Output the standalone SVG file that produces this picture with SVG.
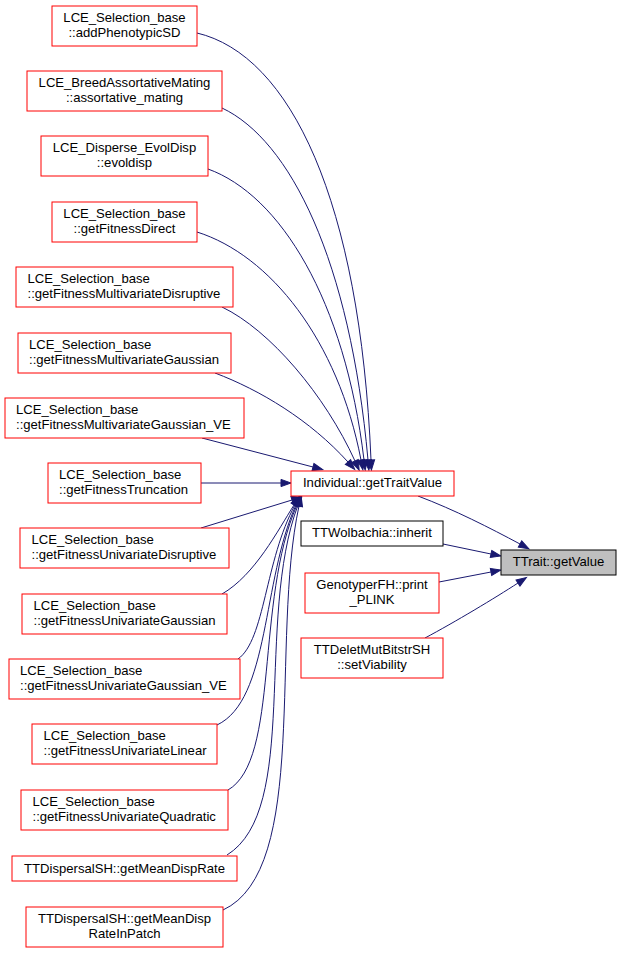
<svg xmlns="http://www.w3.org/2000/svg" width="621" height="953" viewBox="0 0 621 953">
<style>
.n{fill:#ffffff;stroke:#ff0000;stroke-width:1}
.b{fill:#ffffff;stroke:#000000;stroke-width:1}
.g{fill:#bfbfbf;stroke:#000000;stroke-width:1}
text{font-family:"Liberation Sans",Arial,Helvetica,sans-serif;font-size:13.1px;fill:#000000}
.c{text-anchor:middle}
.e{fill:none;stroke:#191970;stroke-width:1;marker-end:url(#arr)}
</style>
<defs>
<marker id="arr" markerUnits="userSpaceOnUse" markerWidth="12" markerHeight="10" refX="0" refY="0" orient="auto" overflow="visible">
<path d="M0,-3.6 L10,0 L0,3.6 z" fill="#191970" stroke="#191970" stroke-width="1"/>
</marker>
</defs>
<rect width="621" height="953" fill="#ffffff"/>
<g id="edges">
<path class="e" d="M197,33 C290,55 360,200 371,460"/>
<path class="e" d="M222,108 C290,140 350,260 368,460"/>
<path class="e" d="M208,169 C280,195 345,300 364,460"/>
<path class="e" d="M197,232 C270,255 338,340 361,460"/>
<path class="e" d="M222,307 C270,330 325,395 355,461"/>
<path class="e" d="M215,373 C260,390 310,420 348,462"/>
<path class="e" d="M202,438 L313,467"/>
<path class="e" d="M201,483 L281,483"/>
<path class="e" d="M201,528 L292,500"/>
<path class="e" d="M222,594 C255,575 278,530 294,505"/>
<path class="e" d="M238,659 C265,640 265,560 295,505"/>
<path class="e" d="M217,725 C270,700 262,580 296,505"/>
<path class="e" d="M228,790 C280,760 255,600 297,505"/>
<path class="e" d="M227,855 C300,810 255,620 298,505"/>
<path class="e" d="M223,910 C310,870 270,640 299,506"/>
<path class="e" d="M418,496 C455,510 490,528 520,544"/>
<path class="e" d="M443,544 L491,554"/>
<path class="e" d="M439,582 L491,572"/>
<path class="e" d="M425,638 C455,622 495,598 518,583"/>
</g>
<g id="n1"><rect class="n" x="52" y="6" width="145" height="40"/><text class="c" x="124.5" y="22.3">LCE_Selection_base</text><text class="c" x="124.5" y="37">::addPhenotypicSD</text></g>
<g id="n2"><rect class="n" x="27" y="71" width="195" height="40"/><text class="c" x="124.5" y="87.3">LCE_BreedAssortativeMating</text><text class="c" x="124.5" y="102">::assortative_mating</text></g>
<g id="n3"><rect class="n" x="41" y="136" width="167" height="40"/><text class="c" x="124.5" y="152.3">LCE_Disperse_EvolDisp</text><text class="c" x="124.5" y="167">::evoldisp</text></g>
<g id="n4"><rect class="n" x="52" y="202" width="145" height="40"/><text class="c" x="124.5" y="218.3">LCE_Selection_base</text><text class="c" x="124.5" y="233">::getFitnessDirect</text></g>
<g id="n5"><rect class="n" x="16" y="267" width="217" height="40"/><text x="27.5" y="283.3">LCE_Selection_base</text><text x="27.5" y="298">::getFitnessMultivariateDisruptive</text></g>
<g id="n6"><rect class="n" x="18" y="333" width="213" height="40"/><text x="29" y="349.3">LCE_Selection_base</text><text x="29" y="364">::getFitnessMultivariateGaussian</text></g>
<g id="n7"><rect class="n" x="5" y="398" width="239" height="40"/><text x="16" y="414.3">LCE_Selection_base</text><text x="16" y="429">::getFitnessMultivariateGaussian_VE</text></g>
<g id="n8"><rect class="n" x="48" y="463" width="153" height="40"/><text x="59" y="479.3">LCE_Selection_base</text><text x="59" y="494">::getFitnessTruncation</text></g>
<g id="n9"><rect class="n" x="20" y="528" width="209" height="40"/><text x="31.5" y="544.3">LCE_Selection_base</text><text x="31.5" y="559">::getFitnessUnivariateDisruptive</text></g>
<g id="n10"><rect class="n" x="22" y="594" width="205" height="40"/><text x="33.5" y="610.3">LCE_Selection_base</text><text x="33.5" y="625">::getFitnessUnivariateGaussian</text></g>
<g id="n11"><rect class="n" x="9" y="659" width="231" height="40"/><text x="20" y="675.3">LCE_Selection_base</text><text x="20" y="690">::getFitnessUnivariateGaussian_VE</text></g>
<g id="n12"><rect class="n" x="32" y="724" width="185" height="40"/><text x="43.5" y="740.3">LCE_Selection_base</text><text x="43.5" y="755">::getFitnessUnivariateLinear</text></g>
<g id="n13"><rect class="n" x="21" y="790" width="207" height="40"/><text x="32.5" y="806.3">LCE_Selection_base</text><text x="32.5" y="821">::getFitnessUnivariateQuadratic</text></g>
<g id="n14"><rect class="n" x="12" y="856" width="225" height="25"/><text class="c" x="124.5" y="872.5">TTDispersalSH::getMeanDispRate</text></g>
<g id="n15"><rect class="n" x="26" y="907" width="197" height="40"/><text class="c" x="124.5" y="923.3">TTDispersalSH::getMeanDisp</text><text class="c" x="124.5" y="938">RateInPatch</text></g>
<g id="hub"><rect class="n" x="291" y="471" width="163" height="25"/><text class="c" x="372.5" y="487.3">Individual::getTraitValue</text></g>
<g id="wolb"><rect class="b" x="301" y="521" width="142" height="25"/><text class="c" x="372" y="537.3">TTWolbachia::inherit</text></g>
<g id="geno"><rect class="n" x="305" y="573" width="134" height="40"/><text class="c" x="372" y="589.3">GenotyperFH::print</text><text class="c" x="372" y="604">_PLINK</text></g>
<g id="delet"><rect class="n" x="301" y="638" width="142" height="40"/><text class="c" x="372" y="654.3">TTDeletMutBitstrSH</text><text class="c" x="372" y="669">::setViability</text></g>
<g id="trait"><rect class="g" x="501" y="550" width="115" height="25"/><text class="c" x="558.5" y="566.3">TTrait::getValue</text></g>
</svg>
